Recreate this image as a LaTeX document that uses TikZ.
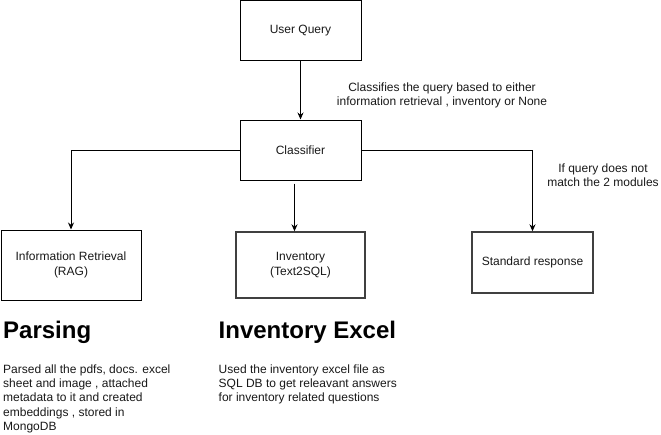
\documentclass[tikz,border=0pt]{standalone}
\usepackage{fontspec}
\setmainfont{Liberation Sans}
\usetikzlibrary{arrows.meta}
\begin{document}
\begin{tikzpicture}[x=1pt,y=-1pt,
  txt/.style={font=\fontsize{12}{14.4}\selectfont, text=black!90},
  box/.style={txt, draw=black, line width=1pt, fill=white, inner sep=0pt, align=center},
  softbox/.style={box, draw=black!75, line width=1.4pt},
  link/.style={draw=black, line width=1pt, -{Stealth[length=7pt,width=6pt]}},
  note/.style={txt, inner sep=0pt, align=center},
  heading/.style={font=\fontsize{24}{28}\selectfont\bfseries, text=black, inner sep=0pt, anchor=base west},
  body/.style={font=\fontsize{12}{14.2}\selectfont, text=black!90, inner sep=0pt, align=left, anchor=north west}
]
\useasboundingbox[fill=white] (0,0) rectangle (661,434);

% main flow
\node[box, minimum width=121pt, minimum height=59.5pt] (uq)  at (300.5,30.25) {User Query};
\node[box, minimum width=121pt, minimum height=60pt]   (cls) at (300.5,150) {Classifier};

% three modules
\node[box, minimum width=140pt, minimum height=70pt]     (ir)  at (71,265)    {Information Retrieval\\(RAG)};
\node[softbox, minimum width=129pt, minimum height=66pt] (inv) at (300.5,265) {Inventory\\(Text2SQL)};
\node[softbox, minimum width=121pt, minimum height=61pt] (std) at (532.5,262.5) {Standard response};

% connectors
\draw[link] (uq) -- (cls);
\draw[link] (cls.west) -| (ir.north);
\draw[link] (cls.east) -| (std.north);
\draw[link, shorten <=3pt] ([xshift=-6pt]cls.south) -- ([xshift=-6pt]inv.north);

% side notes
\node[note] (n1) at (442,95.5) {Classifies the query based to either\\information retrieval , inventory or None};
\node[note] (n2) at (603,175.5) {If query does not\\match the 2 modules};

% descriptions
\node[heading] (h1) at (3,338.5) {Parsing};
\node[heading] (h2) at (218.5,338.5) {Inventory Excel};
\node[body] (b1) at (3,364.5) {Parsed all the pdfs, docs. excel\\sheet and image , attached\\metadata to it and created\\embeddings , stored in\\MongoDB};
\node[body] (b2) at (218.5,364.5) {Used the inventory excel file as\\SQL DB to get releavant answers\\for inventory related questions};
\end{tikzpicture}
\end{document}
